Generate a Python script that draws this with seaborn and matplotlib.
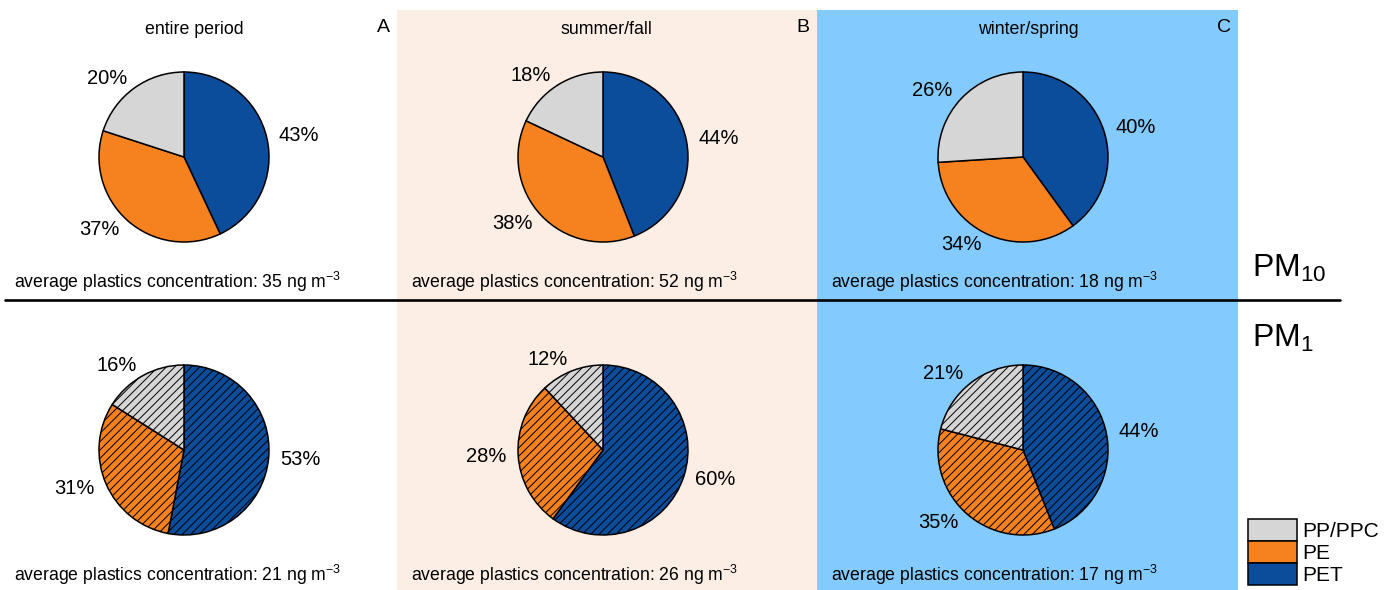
import matplotlib
matplotlib.use('Agg')
import matplotlib.pyplot as plt
from matplotlib.patches import Patch, Rectangle
import seaborn as sns

# data
materials = ['PET', 'PE', 'PP/PPC']
periods = ['entire period', 'summer/fall', 'winter/spring']
panel_letters = ['A', 'B', 'C']
pm10_share = [[43, 37, 20], [44, 38, 18], [40, 34, 26]]
pm1_share = [[53, 31, 16], [60, 28, 12], [44, 35, 21]]
pm10_conc = [35, 52, 18]
pm1_conc = [21, 26, 17]

sns.set_style('white')
plt.rcParams['font.family'] = ['Liberation Sans', 'DejaVu Sans']
plt.rcParams['text.color'] = 'black'
plt.rcParams['mathtext.default'] = 'regular'
plt.rcParams['hatch.linewidth'] = 0.7

colors = sns.color_palette(['#0b4c9b', '#f5821f', '#d6d6d6'])
bg_colors = [None, '#fdeee5', '#83cbff']

W, H = 1385, 590
fig = plt.figure(figsize=(13.85, 5.9), dpi=100)

# background axes in pixel units
bg = fig.add_axes([0, 0, 1, 1])
bg.set_xlim(0, W)
bg.set_ylim(H, 0)
bg.axis('off')

col_left = [0, 397, 817]
col_right = [397, 817, 1238]
pie_x = [184, 603, 1023]
title_x = [194, 606, 1028]
row_y = [157, 450]
R = 85
L = 1.6


def draw_pie(cx, cy, shares, hatch):
    size = 2 * L * R
    ax = fig.add_axes([(cx - size / 2) / W, 1 - (cy + size / 2) / H, size / W, size / H])
    ax.pie(shares, labels=[f'{v}%' for v in shares], colors=colors,
           startangle=90, counterclock=False, labeldistance=1.14,
           wedgeprops=dict(edgecolor='black', linewidth=1.1, hatch=hatch),
           textprops=dict(fontsize=14.5, color='black'))
    ax.set_xlim(-L, L)
    ax.set_ylim(-L, L)
    ax.axis('off')
    return ax


for i in range(3):
    if bg_colors[i]:
        bg.add_patch(Rectangle((col_left[i], 10), col_right[i] - col_left[i], H - 10,
                               facecolor=bg_colors[i], edgecolor='none', zorder=0))
    bg.text(title_x[i], 29, periods[i], ha='center', va='center', fontsize=12.8)
    bg.text(col_right[i] - 14, 28, panel_letters[i], ha='center', va='center', fontsize=14)
    draw_pie(pie_x[i], row_y[0], pm10_share[i], None)
    draw_pie(pie_x[i], row_y[1], pm1_share[i], '////')
    bg.text(col_left[i] + 14, 282, f'average plastics concentration: {pm10_conc[i]} ng m$^{{-3}}$',
            ha='left', va='center', fontsize=12.7)
    bg.text(col_left[i] + 14, 575, f'average plastics concentration: {pm1_conc[i]} ng m$^{{-3}}$',
            ha='left', va='center', fontsize=12.7)

bg.plot([5, 1340], [300, 300], color='black', lw=1.9)
bg.text(1252, 268, 'PM$_{10}$', ha='left', va='center', fontsize=23)
bg.text(1252, 338, 'PM$_{1}$', ha='left', va='center', fontsize=23)

handles = [Patch(facecolor=colors[k], edgecolor='black', linewidth=1.1) for k in [2, 1, 0]]
labels = [materials[k] for k in [2, 1, 0]]
fig.legend(handles, labels, loc='lower left', bbox_to_anchor=(1248 / W, 1 - 585 / H),
           frameon=False, fontsize=15, handlelength=2.35, handleheight=1.25,
           labelspacing=0, handletextpad=0.25, borderpad=0, borderaxespad=0)

fig.savefig('out.png', dpi=100)
